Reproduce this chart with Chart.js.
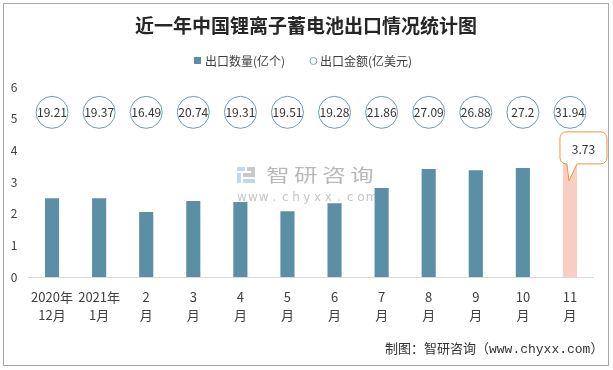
<!DOCTYPE html>
<html><head><meta charset="utf-8">
<script src="https://cdn.jsdelivr.net/npm/chart.js@4.4.0/dist/chart.umd.min.js"></script>
<style>
html,body{margin:0;padding:0;background:#fff;}
#wrap{position:relative;width:613px;height:370px;overflow:hidden;}
#frame{position:absolute;left:3px;top:3px;width:606px;height:363px;box-sizing:border-box;border:1px solid #a6a6a6;pointer-events:none;}
#c{position:absolute;left:0;top:0;}
</style></head><body>
<div id="wrap"><canvas id="c" width="613" height="370"></canvas><div id="frame"></div></div>
<script>
const chartTitle = '近一年中国锂离子蓄电池出口情况统计图';
const categories = [['2020年','12月'],['2021年','1月'],['2','月'],['3','月'],['4','月'],['5','月'],['6','月'],['7','月'],['8','月'],['9','月'],['10','月'],['11','月']];
const quantityName = '出口数量(亿个)';
const quantity = [2.49, 2.49, 2.05, 2.40, 2.37, 2.08, 2.33, 2.81, 3.41, 3.37, 3.44, 3.73];
const valueName = '出口金额(亿美元)';
const exportValue = [19.21, 19.37, 16.49, 20.74, 19.31, 19.51, 19.28, 21.86, 27.09, 26.88, 27.2, 31.94];
const yTicks = [0, 1, 2, 3, 4, 5, 6];
const sourceText = '制图：智研咨询（www.chyxx.com）';
const watermarkName = '智研咨询';
const watermarkUrl = 'www.chyxx.com';

const CJK = '"Noto Sans CJK SC", sans-serif';
const BLUE = '#5b8fa6';
const PINK = '#f8cec3';
const lastIdx = quantity.length - 1;

function drawWatermark(ctx){
  ctx.save();
  ctx.fillStyle = '#c2d7ec';
  ctx.fillRect(237,167,8,4);
  ctx.fillRect(237,173,4,10);
  ctx.fillRect(243,179,12,4);
  ctx.fillStyle = '#c9c9c9';
  ctx.fillRect(247,167,8,4);
  ctx.fillRect(251,171,4,6);
  ctx.fillRect(243,173,8,4);
  ctx.fillStyle = '#b9b9b9';
  ctx.font = '18px ' + CJK;
  ctx.textAlign = 'center';
  ctx.textBaseline = 'middle';
  [...watermarkName].forEach((ch, i) => {
    ctx.save();
    ctx.translate(278 + i * 28, 175);
    ctx.scale(1.3, 1);
    ctx.fillText(ch, 0, 0);
    ctx.restore();
  });
  ctx.fillStyle = '#c6c6c6';
  ctx.font = '12px "DejaVu Sans", sans-serif';
  [...watermarkUrl].forEach((ch, i) => {
    ctx.fillText(ch, 242 + i * 10.8, 198);
  });
  ctx.restore();
}

const deco = {
  id: 'deco',
  beforeDatasetsDraw(chart){ drawWatermark(chart.ctx); },
  afterDatasetsDraw(chart){
    const ctx = chart.ctx;
    const xs = chart.scales.x, ys = chart.scales.y;
    const cy = ys.getPixelForValue(5.2);
    ctx.save();
    ctx.font = '12px ' + CJK;
    ctx.textAlign = 'center';
    ctx.textBaseline = 'middle';
    exportValue.forEach((v, i) => {
      const cx = xs.getPixelForValue(i);
      ctx.beginPath();
      ctx.arc(cx, cy, 16, 0, Math.PI * 2);
      ctx.fillStyle = '#fff';
      ctx.fill();
      ctx.strokeStyle = '#6f9ab0';
      ctx.lineWidth = 1;
      ctx.stroke();
      ctx.fillStyle = '#333';
      ctx.fillText(String(v), cx, cy + 0.5);
    });
    // callout on last bar
    const bar = chart.getDatasetMeta(0).data[lastIdx];
    const bx = bar.x, by = bar.y;
    const L = bx - 10, T = by - 27, W = 47, H = 32, R = 6;
    ctx.beginPath();
    ctx.moveTo(L + R, T);
    ctx.lineTo(L + W - R, T);
    ctx.arcTo(L + W, T, L + W, T + R, R);
    ctx.lineTo(L + W, T + H - R);
    ctx.arcTo(L + W, T + H, L + W - R, T + H, R);
    ctx.lineTo(bx + 7, T + H);
    ctx.lineTo(bx - 1, by + 22);
    ctx.lineTo(bx - 3, T + H);
    ctx.lineTo(L + R, T + H);
    ctx.arcTo(L, T + H, L, T + H - R, R);
    ctx.lineTo(L, T + R);
    ctx.arcTo(L, T, L + R, T, R);
    ctx.closePath();
    ctx.fillStyle = '#fff';
    ctx.fill();
    ctx.strokeStyle = '#e8973f';
    ctx.lineWidth = 1;
    ctx.stroke();
    ctx.fillStyle = '#333';
    ctx.fillText(quantity[lastIdx].toFixed(2), L + 23.5, T + 18);
    ctx.restore();
  },
  afterDraw(chart){
    const ctx = chart.ctx;
    ctx.save();
    // title
    ctx.fillStyle = '#262626';
    ctx.font = 'bold 19px ' + CJK;
    ctx.textAlign = 'center';
    ctx.textBaseline = 'middle';
    ctx.fillText(chartTitle, 306, 26);
    // legend
    ctx.textAlign = 'left';
    ctx.font = '12px ' + CJK;
    ctx.fillStyle = BLUE;
    ctx.fillRect(194, 57, 7, 7);
    ctx.fillStyle = '#404040';
    ctx.fillText(chart.data.datasets[0].label, 205, 61);
    ctx.beginPath();
    ctx.arc(313.5, 61, 3.5, 0, Math.PI * 2);
    ctx.strokeStyle = '#7fa6ba';
    ctx.lineWidth = 1;
    ctx.stroke();
    ctx.fillText(chart.data.datasets[1].label, 320, 61);
    // footer
    ctx.fillStyle = '#333';
    ctx.font = '13px "Liberation Mono", ' + CJK;
    ctx.fillText(sourceText, 385, 350);
    ctx.restore();
  }
};

new Chart(document.getElementById('c'), {
  data: {
    labels: categories,
    datasets: [
      {
        type: 'bar',
        label: quantityName,
        data: quantity,
        backgroundColor: (c) => c.dataIndex === lastIdx ? PINK : BLUE,
        barPercentage: 0.3,
        categoryPercentage: 1,
        yAxisID: 'y',
        order: 2
      },
      {
        type: 'line',
        label: valueName,
        data: exportValue,
        showLine: false,
        pointRadius: 0,
        pointHoverRadius: 0,
        yAxisID: 'y2',
        order: 1
      }
    ]
  },
  options: {
    responsive: false,
    devicePixelRatio: 1,
    animation: false,
    layout: { padding: { top: 87, right: 19.5, left: 0, bottom: 0 } },
    plugins: { legend: { display: false }, title: { display: false }, tooltip: { enabled: false } },
    scales: {
      x: {
        grid: { display: false, drawTicks: false },
        border: { display: true, color: '#d9d9d9', width: 1 },
        ticks: { color: '#404040', font: { family: CJK, size: 13, lineHeight: '18px' }, padding: 11, maxRotation: 0, autoSkip: false },
        afterFit(s){ s.height = 93; }
      },
      y: {
        min: 0, max: 6,
        grid: { display: false, drawTicks: false },
        border: { display: false },
        ticks: { color: '#404040', font: { family: CJK, size: 12 }, padding: 11 },
        afterBuildTicks(s){ s.ticks = yTicks.map(v => ({ value: v })); },
        afterFit(s){ s.width = 28.5; }
      },
      y2: { display: false, min: 0, max: 40 }
    }
  },
  plugins: [deco]
});
</script>
</body></html>
